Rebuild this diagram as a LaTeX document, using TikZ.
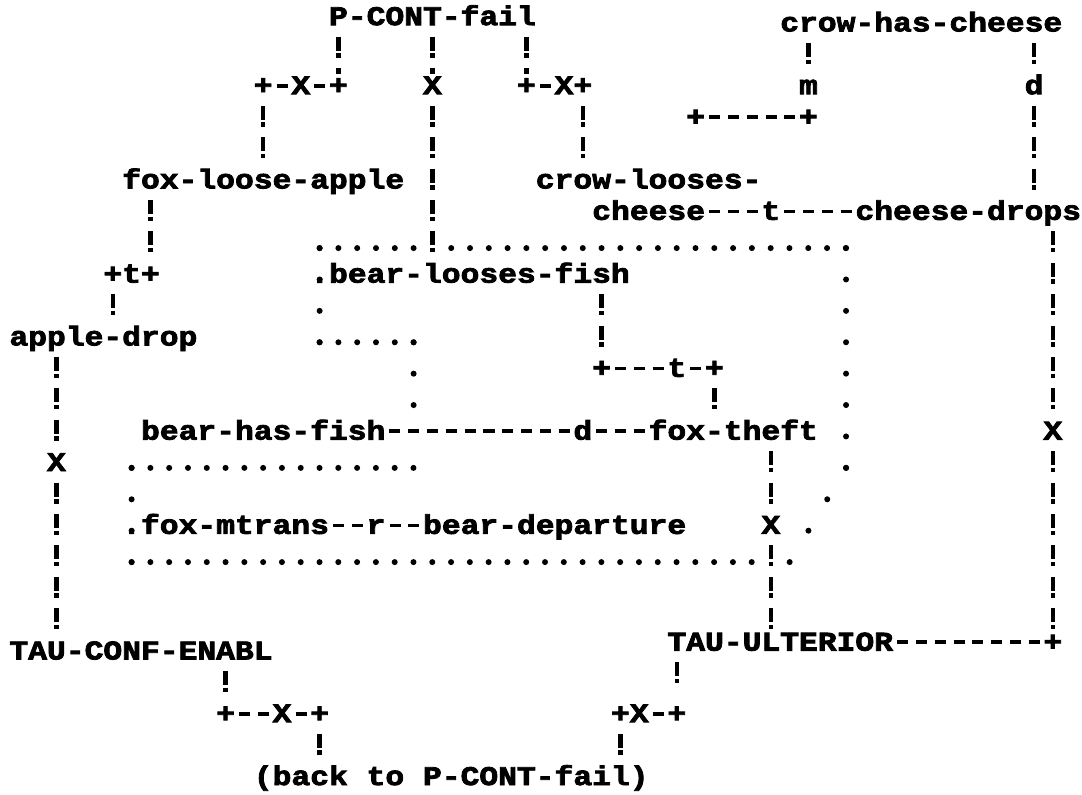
\documentclass[tikz,border=0pt]{standalone}
\usepackage{fontspec}
\usepackage{tikz}
\newfontfamily\cdfont{Liberation Mono}[FakeStretch=1.16, BoldFeatures={FakeBold=3}]
\tikzset{
  cdtext/.style={font=\cdfont\bfseries\fontsize{27}{30}\selectfont, inner sep=0pt, text height=20pt, text depth=11.4pt, anchor=base},
  cdbang/.style={line width=4.4pt, draw=black, line cap=butt, dash pattern=on 14pt off 2.5pt on 4.5pt off 10.4pt},
  cddash/.style={line width=3.6pt, draw=black, line cap=butt, dash pattern=on 11pt off 7.8pt, dash phase=14.9pt},
  cdhdot/.style={line width=6pt, draw=black, line cap=round, dash pattern=on 0pt off 18.79pt},
  cdvdot/.style={line width=6pt, draw=black, line cap=round, dash pattern=on 0pt off 31.39pt},
  cdddot/.style={line width=6pt, draw=black, line cap=round, dash pattern=on 0pt off 36.59pt},
}
\begin{document}
\begin{tikzpicture}[x=18.8pt, y=-31.4pt]
\useasboundingbox (0,0) rectangle (57.55,25.29);
\node[cdtext] (pcont) at (23,0.8) {P-CONT-fail};
\node[cdtext] (crowhas) at (49,1) {crow-has-cheese};
\node[cdtext] (ja1) at (14,3) {+};
\node[cdtext] (xa) at (16,3) {X};
\node[cdtext] (ja2) at (18,3) {+};
\node[cdtext] (xb) at (23,3) {X};
\node[cdtext] (jc1) at (28,3) {+};
\node[cdtext] (xc) at (30,3) {X};
\node[cdtext] (jc2) at (31,3) {+};
\node[cdtext] (mlab) at (43,3) {m};
\node[cdtext] (dlab) at (55,3) {d};
\node[cdtext] (jd1) at (37,4) {+};
\node[cdtext] (jd2) at (43,4) {+};
\node[cdtext] (foxapple) at (14,6) {fox-loose-apple};
\node[cdtext] (crowloose) at (34.5,6) {crow-looses-};
\node[cdtext] (cheese) at (34.5,7) {cheese};
\node[cdtext] (tla) at (41,7) {t};
\node[cdtext] (drops) at (51.5,7) {cheese-drops};
\node[cdtext] (je1) at (6,9) {+};
\node[cdtext] (tlb) at (7,9) {t};
\node[cdtext] (je2) at (8,9) {+};
\node[cdtext] (bearloose) at (25,9) {.bear-looses-fish};
\node[cdtext] (appledrop) at (5.5,11) {apple-drop};
\node[cdtext] (jf1) at (32,12) {+};
\node[cdtext] (tlc) at (36,12) {t};
\node[cdtext] (jf2) at (38,12) {+};
\node[cdtext] (bearhas) at (14,14) {bear-has-fish};
\node[cdtext] (dlb) at (31,14) {d};
\node[cdtext] (foxtheft) at (39,14) {fox-theft};
\node[cdtext] (xd) at (56,14) {X};
\node[cdtext] (xe) at (3,15) {X};
\node[cdtext] (foxmtrans) at (12,17) {.fox-mtrans};
\node[cdtext] (rlab) at (20,17) {r};
\node[cdtext] (beardep) at (29.5,17) {bear-departure};
\node[cdtext] (xf) at (41,17) {X};
\node[cdtext] (tauconf) at (7.5,21) {TAU-CONF-ENABL};
\node[cdtext] (tauult) at (41.5,20.72) {TAU-ULTERIOR};
\node[cdtext] (jg) at (56,20.72) {+};
\node[cdtext] (jh1) at (12,23) {+};
\node[cdtext] (xh) at (15,23) {X};
\node[cdtext] (jh2) at (17,23) {+};
\node[cdtext] (ji1) at (33,23) {+};
\node[cdtext] (xi) at (34,23) {X};
\node[cdtext] (ji2) at (36,23) {+};
\node[cdtext] (back) at (24,25) {(back to P-CONT-fail)};
\draw[cdbang] (ja2 |- pcont.south) -- (ja2.north);
\draw[cdbang] (xb |- pcont.south) -- (xb.north);
\draw[cdbang] (jc1 |- pcont.south) -- (jc1.north);
\draw[cdbang] (ja1.south) -- (ja1 |- foxapple.north);
\draw[cdbang] (xb.south) -- (xb |- bearloose.north);
\draw[cdbang] (jc2.south) -- (jc2 |- crowloose.north);
\draw[cdbang] (mlab |- crowhas.south) -- (mlab.north);
\draw[cdbang] (dlab |- crowhas.south) -- (dlab.north);
\draw[cdbang] (dlab.south) -- (dlab |- drops.north);
\draw[cdbang] (je2 |- foxapple.south) -- (je2.north);
\draw[cdbang] (je1.south) -- (je1 |- appledrop.north);
\draw[cdbang] (xe |- appledrop.south) -- (xe.north);
\draw[cdbang] (xe.south) -- (xe |- tauconf.north);
\draw[cdbang] (jf1 |- bearloose.south) -- (jf1.north);
\draw[cdbang] (jf2.south) -- (jf2 |- foxtheft.north);
\draw[cdbang] (xf |- foxtheft.south) -- (xf.north);
\draw[cdbang] (xf.south) -- (xf |- tauult.north);
\draw[cdbang] (xd |- drops.south) -- (xd.north);
\draw[cdbang] (xd.south) -- (jg.north);
\draw[cdbang] (jh1 |- tauconf.south) -- (jh1.north);
\draw[cdbang] (jh2.south) -- (jh2 |- back.north);
\draw[cdbang] (ji2 |- tauult.south) -- ([yshift=8.8pt]ji2.north);
\draw[cdbang] (ji1.south) -- (ji1 |- back.north);
\draw[cddash] ([yshift=8.5pt]ja1.base east) -- ([yshift=8.5pt]xa.base west);
\draw[cddash] ([yshift=8.5pt]xa.base east) -- ([yshift=8.5pt]ja2.base west);
\draw[cddash] ([yshift=8.5pt]jc1.base east) -- ([yshift=8.5pt]xc.base west);
\draw[cddash] ([yshift=8.5pt]jd1.base east) -- ([yshift=8.5pt]jd2.base west);
\draw[cddash] ([yshift=8.5pt]cheese.base east) -- ([yshift=8.5pt]tla.base west);
\draw[cddash] ([yshift=8.5pt]tla.base east) -- ([yshift=8.5pt]drops.base west);
\draw[cddash] ([yshift=8.5pt]jf1.base east) -- ([yshift=8.5pt]tlc.base west);
\draw[cddash] ([yshift=8.5pt]tlc.base east) -- ([yshift=8.5pt]jf2.base west);
\draw[cddash] ([yshift=8.5pt]bearhas.base east) -- ([yshift=8.5pt]dlb.base west);
\draw[cddash] ([yshift=8.5pt]dlb.base east) -- ([yshift=8.5pt]foxtheft.base west);
\draw[cddash] ([yshift=8.5pt]foxmtrans.base east) -- ([yshift=8.5pt]rlab.base west);
\draw[cddash] ([yshift=8.5pt]rlab.base east) -- ([yshift=8.5pt]beardep.base west);
\draw[cddash] ([yshift=8.5pt]tauult.base east) -- ([yshift=8.5pt]jg.base west);
\draw[cddash] ([yshift=8.5pt]jh1.base east) -- ([yshift=8.5pt]xh.base west);
\draw[cddash] ([yshift=8.5pt]xh.base east) -- ([yshift=8.5pt]jh2.base west);
\draw[cddash] ([yshift=8.5pt]xi.base east) -- ([yshift=8.5pt]ji2.base west);
\coordinate (fa) at (17,7.9);
\coordinate (fa2) at (22,7.9);
\coordinate (fa3) at (24,7.9);
\coordinate (fb) at (45,7.9);
\coordinate (fc) at (45,14.9);
\coordinate (fd) at (42,17.9);
\coordinate (fe) at (40,17.9);
\coordinate (ff) at (7,17.9);
\coordinate (fg) at (7,14.9);
\coordinate (fh) at (22,14.9);
\coordinate (fi) at (22,12.9);
\coordinate (fj) at (22,10.9);
\coordinate (fk) at (17,10.9);
\draw[cdhdot] (fa) -- (fa2);
\draw[cdhdot] (fa3) -- (fb);
\draw[cdvdot] (fb) -- (fc);
\draw[cdddot] (fc) -- (fd);
\draw[cdhdot] (ff) -- (fe);
\draw[cdvdot] (ff) -- (fg);
\draw[cdhdot] (fg) -- (fh);
\draw[cdvdot] (fj) -- (fi);
\draw[cdhdot] (fk) -- (fj);
\draw[cdvdot] (fa) -- (fk);
\end{tikzpicture}
\end{document}
